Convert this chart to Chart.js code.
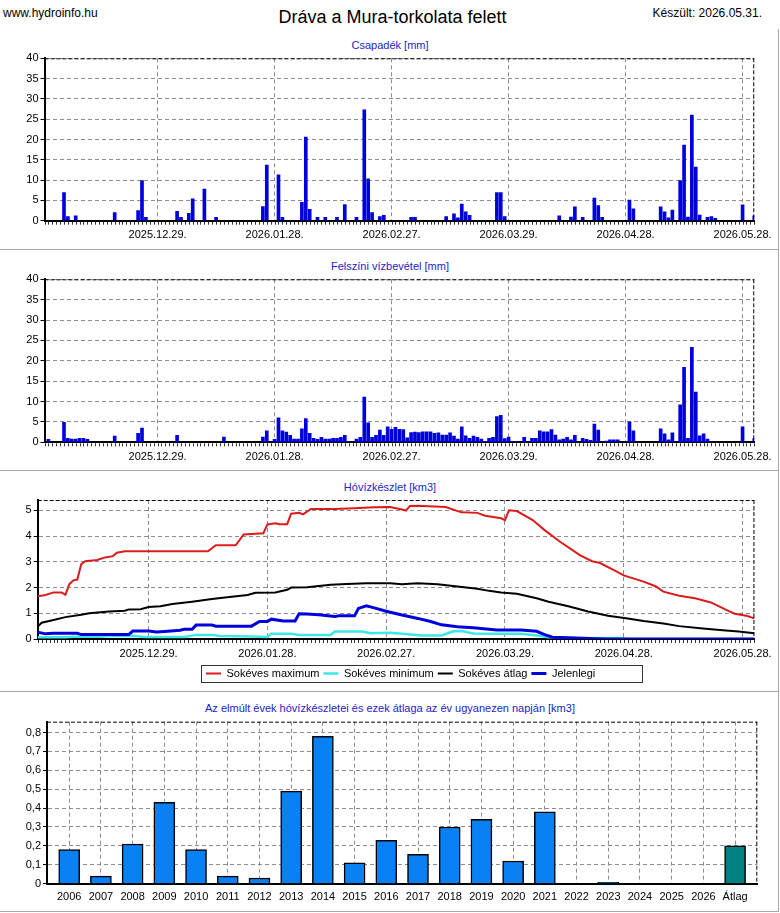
<!DOCTYPE html>
<html>
<head>
<meta charset="utf-8">
<title>Dráva a Mura-torkolata felett</title>
<script src="https://cdn.jsdelivr.net/npm/chart.js@4.4.1/dist/chart.umd.min.js"></script>
<style>
  body { margin: 0; background: #fff; font-family: 'Liberation Sans', Arial, sans-serif; }
  #lap { position: relative; width: 780px; height: 913px; overflow: hidden; }
  .szoveg { position: absolute; white-space: nowrap; line-height: 1; color: #000; }
  .alcim { position: absolute; left: 0; width: 780px; text-align: center; font-size: 11px; line-height: 1; color: #2323c8; }
  canvas { position: absolute; left: 0; }
  .vonal { position: absolute; background: #a8a8a8; }
</style>
</head>
<body>
<div id="lap">
  <div class="szoveg" style="left:3px; top:7px; font-size:12px;">www.hydroinfo.hu</div>
  <div class="szoveg" style="left:0; width:785px; text-align:center; top:8px; font-size:18px;">Dráva a Mura-torkolata felett</div>
  <div class="szoveg" style="right:18px; top:7px; font-size:12px;">Készült: 2026.05.31.</div>

  <div class="alcim" style="top:40px;">Csapadék [mm]</div>
  <div class="alcim" style="top:261px;">Felszíni vízbevétel [mm]</div>
  <div class="alcim" style="top:482px;">Hóvízkészlet [km3]</div>
  <div class="alcim" style="top:703px;">Az elmúlt évek hóvízkészletei és ezek átlaga az év ugyanezen napján [km3]</div>

  <canvas id="csapadek" width="780" height="219" style="top:30px;"></canvas>
  <canvas id="vizbevetel" width="780" height="221" style="top:249px;"></canvas>
  <canvas id="hoviz" width="780" height="221" style="top:470px;"></canvas>
  <canvas id="evek" width="780" height="222" style="top:691px;"></canvas>

  <div class="vonal" style="left:0; top:249px; width:779px; height:1px;"></div>
  <div class="vonal" style="left:0; top:470px; width:779px; height:1px;"></div>
  <div class="vonal" style="left:0; top:691px; width:779px; height:1px;"></div>
  <div class="vonal" style="left:0; top:911px; width:779px; height:1px;"></div>
  <div class="vonal" style="left:778px; top:29px; width:1px; height:883px;"></div>
</div>
<script>
// napok 2025.12.01-tol szamolva (0 = dec. 1.)
const napTickek = [28, 58, 88, 118, 148, 178];
const datumCimkek = ['2025.12.29.', '2026.01.28.', '2026.02.27.', '2026.03.29.', '2026.04.28.', '2026.05.28.'];

// Csapadek [mm]
const csapNap = [4,5,7,17,23,24,25,33,34,36,37,40,43,55,56,59,60,65,66,67,69,71,74,76,79,81,82,83,85,86,
  93,94,102,104,105,106,107,108,115,116,117,131,134,135,137,140,141,142,149,150,157,158,159,160,162,163,164,165,166,167,169,170,171,178,181];
const csapMm = [6.9,1.0,1.2,2.0,2.5,9.9,0.8,2.3,0.8,1.8,5.4,7.8,0.8,3.5,13.7,11.3,0.8,4.5,20.6,2.8,0.8,0.8,0.8,4.0,0.8,27.3,10.3,2.0,1.0,1.3,
  0.8,0.8,1.0,1.7,0.7,4.1,2.2,1.3,6.9,6.9,1.0,1.2,0.9,3.4,0.8,5.6,3.7,0.8,5.1,2.9,3.4,2.2,0.7,2.6,9.9,18.6,0.9,26.0,13.2,1.4,0.8,1.0,0.6,3.9,1.2];

// Felszini vizbevetel [mm]
const vizNap = [0,4,5,6,7,8,9,10,17,23,24,33,45,55,56,58,59,60,61,62,63,64,65,66,67,68,69,70,71,72,73,74,75,76,77,79,80,81,82,83,84,85,86,87,
  88,89,90,91,92,93,94,95,96,97,98,99,100,101,102,103,104,105,106,107,108,109,110,111,112,113,114,115,116,117,118,119,120,122,123,124,125,
  126,127,128,129,130,131,132,133,134,135,137,138,139,140,141,143,144,145,146,149,150,157,158,159,160,162,163,164,165,166,167,168,169,170,178,181];
const vizMm = [0.7,4.9,1.0,0.8,0.8,1.0,1.0,0.7,1.5,2.2,3.5,1.7,1.3,1.3,2.8,0.7,6.0,2.8,2.5,1.7,0.8,0.8,3.3,5.8,2.2,1.0,0.7,1.2,0.8,0.8,1.0,1.0,1.2,1.7,0.2,0.8,1.2,11.1,4.8,1.2,1.7,3.0,1.7,3.8,
  3.2,3.7,3.2,3.1,1.1,2.4,2.5,2.4,2.6,2.6,2.6,2.2,2.3,1.8,1.8,2.3,1.5,0.8,3.8,1.6,1.0,1.5,1.2,0.8,0.2,1.0,1.2,6.3,6.6,0.9,1.3,0.2,0.2,1.2,0.2,1.0,1.0,
  2.8,2.6,2.6,3.1,1.8,0.6,0.8,1.2,0.6,1.7,1.0,0.7,0.5,4.5,3.0,0.3,0.6,0.6,0.6,5.0,2.8,3.3,2.1,0.6,2.3,9.2,18.4,1.0,23.3,12.3,1.6,2.1,0.8,0.2,3.8,0.9];

// Hovizkeszlet [km3]
const maxNap = [0,2,4,6,7,8,9,10,11,12,15,17,19,20,22,43,45,50,52,57,58,60,61,63,64,66,67,69,75,80,85,89,92,93,94,96,103,107,111,113,
  117,118,119,121,125,128,132,137,140,142,146,148,153,156,158,162,166,170,174,176,179,181];
const maxKm3 = [1.66,1.71,1.81,1.81,1.72,2.13,2.28,2.31,2.91,3.02,3.07,3.17,3.22,3.35,3.41,3.41,3.64,3.64,4.06,4.11,4.45,4.50,4.46,4.46,4.87,4.90,4.84,5.05,5.05,5.08,5.12,5.13,5.03,4.99,5.17,5.18,5.13,4.92,4.90,4.79,
  4.69,4.62,5.00,4.97,4.62,4.23,3.77,3.25,3.02,2.95,2.64,2.47,2.23,2.05,1.84,1.68,1.58,1.42,1.12,0.98,0.90,0.80];
const minNap = [0,7,9,16,18,24,27,37,40,44,46,54,58,59,64,66,74,75,82,84,89,92,97,102,105,107,110,116,122,126,129,136,147,149,181];
const minKm3 = [0.07,0.07,0.09,0.09,0.12,0.13,0.08,0.08,0.16,0.16,0.12,0.10,0.08,0.20,0.20,0.16,0.16,0.29,0.29,0.22,0.24,0.20,0.14,0.14,0.30,0.31,0.21,0.20,0.20,0.14,0.07,0.03,0.04,0,0];
const atlNap = [0,1,4,7,11,13,18,22,23,26,28,31,34,39,44,49,53,55,60,63,64,68,74,78,83,89,92,96,101,106,111,114,117,121,126,129,134,139,144,149,153,158,162,168,173,177,181];
const atlKm3 = [0.48,0.63,0.74,0.85,0.94,1.00,1.07,1.10,1.15,1.16,1.24,1.27,1.36,1.45,1.55,1.64,1.71,1.80,1.81,1.91,2.00,2.01,2.11,2.14,2.17,2.17,2.13,2.17,2.13,2.04,1.95,1.87,1.81,1.76,1.58,1.45,1.27,1.07,0.90,0.80,0.70,0.60,0.50,0.41,0.34,0.29,0.22];
const jelNap = [0,2,4,10,11,23,24,28,30,32,36,37,39,40,44,45,54,56,58,59,62,65,66,68,71,75,76,80,81,83,85,88,92,96,99,102,106,110,114,116,122,126,128,130,136,141,144,181];
const jelKm3 = [0.26,0.20,0.22,0.22,0.17,0.17,0.31,0.31,0.27,0.29,0.34,0.38,0.38,0.54,0.54,0.50,0.50,0.68,0.68,0.77,0.70,0.70,0.98,0.97,0.94,0.87,0.90,0.90,1.19,1.29,1.21,1.08,0.93,0.80,0.69,0.55,0.48,0.44,0.38,0.35,0.35,0.30,0.17,0.07,0.04,0.01,0,0];

// Elmult evek
const evek = ['2006','2007','2008','2009','2010','2011','2012','2013','2014','2015','2016','2017','2018','2019','2020','2021','2022','2023','2024','2025','2026','Átlag'];
const evKeszlet = [0.18,0.04,0.21,0.43,0.18,0.04,0.03,0.49,0.78,0.11,0.23,0.155,0.30,0.34,0.12,0.38,0,0.007,0,0,0,0.20];

Chart.defaults.font.family = "'Liberation Sans', Arial, sans-serif";
Chart.defaults.font.size = 11;
Chart.defaults.color = '#000';
Chart.defaults.animation = false;

const pontok = (nap, ert) => nap.map((d, i) => ({ x: d, y: ert[i] }));

// szaggatott keret fent/jobbra, napi osztasok, jelmagyarazat keret
const keretPlugin = {
  id: 'keret',
  afterUpdate(chart, args, opts) {
    // a jelmagyarazat kicsit jobbra van az eredetin
    if (opts.legendEltolas && chart.legend) {
      chart.legend.left += opts.legendEltolas;
      chart.legend.right += opts.legendEltolas;
      chart.legend.legendHitBoxes.forEach(h => { h.left += opts.legendEltolas; });
    }
  },
  afterDraw(chart, args, opts) {
    const { ctx, chartArea: a } = chart;
    ctx.save();
    ctx.strokeStyle = '#000';
    ctx.lineWidth = 1;
    ctx.setLineDash([4, 2]);
    ctx.beginPath();
    ctx.moveTo(a.left, a.top + 0.5);
    ctx.lineTo(a.right, a.top + 0.5);
    ctx.moveTo(a.right - 0.5, a.top);
    ctx.lineTo(a.right - 0.5, a.bottom);
    ctx.stroke();
    ctx.setLineDash([]);
    if (opts.napJelek) {
      const x = chart.scales.x;
      ctx.strokeStyle = '#333';
      ctx.beginPath();
      for (let d = Math.ceil(x.min); d <= x.max; d++) {
        const px = Math.round(x.getPixelForValue(d)) + 0.5;
        ctx.moveTo(px, a.bottom + 1);
        ctx.lineTo(px, a.bottom + 4);
      }
      ctx.stroke();
    }
    if (opts.legendKeret && chart.legend && chart.legend.legendHitBoxes.length) {
      const hb = chart.legend.legendHitBoxes;
      const bal = Math.min(...hb.map(h => h.left)) - 5;
      const kozep = hb[0].top + hb[0].height / 2;
      ctx.strokeRect(Math.round(bal) + 0.5, Math.round(kozep - 8.5) + 0.5, 441, 17);
    }
    ctx.restore();
  }
};

function yTengely(max, lepes, szel, formaz) {
  return {
    min: 0, max: max, bounds: 'data',
    ticks: { stepSize: lepes, includeBounds: false, padding: 2, callback: formaz },
    grid: { color: '#8c8c8c', tickColor: '#000', tickLength: 4 },
    border: { color: '#000', width: 2, dash: [4, 3] },
    afterFit(s) { s.width = szel; }
  };
}

function xNapok(min, max, mag) {
  return {
    type: 'linear', min: min, max: max, bounds: 'data', offset: false,
    ticks: { padding: 8, maxRotation: 0, autoSkip: false, callback: (v, i) => datumCimkek[i] },
    grid: { color: '#8c8c8c', drawTicks: false, offset: false },
    border: { color: '#000', width: 2, dash: [4, 3] },
    afterBuildTicks(s) { s.ticks = napTickek.map(v => ({ value: v })); },
    afterFit(s) { s.height = mag; }
  };
}

function napiOszlop(id, nap, ert, padTop, xMag) {
  return new Chart(document.getElementById(id), {
    type: 'bar',
    data: {
      datasets: [{ data: pontok(nap, ert), backgroundColor: '#0000dd', borderWidth: 0, barThickness: 3 }]
    },
    options: {
      responsive: false,
      layout: { padding: { top: padTop, right: 23, bottom: 0, left: 0 } },
      scales: {
        x: xNapok(-1, 181, xMag),
        y: yTengely(40, 5, 44.5)
      },
      plugins: { legend: { display: false }, tooltip: { enabled: false }, keret: { napJelek: true } }
    },
    plugins: [keretPlugin]
  });
}

napiOszlop('csapadek', csapNap, csapMm, 28.3, 28.3);
napiOszlop('vizbevetel', vizNap, vizMm, 30.3, 27.7);

new Chart(document.getElementById('hoviz'), {
  type: 'line',
  data: {
    datasets: [
      { label: 'Sokéves maximum', data: pontok(maxNap, maxKm3), borderColor: '#dc1c1c', borderWidth: 2, order: 2 },
      { label: 'Sokéves minimum', data: pontok(minNap, minKm3), borderColor: '#3ee6e6', borderWidth: 2.5, order: 3 },
      { label: 'Sokéves átlag', data: pontok(atlNap, atlKm3), borderColor: '#000000', borderWidth: 2, order: 1 },
      { label: 'Jelenlegi', data: pontok(jelNap, jelKm3), borderColor: '#0000dd', borderWidth: 3, order: 0 }
    ]
  },
  options: {
    responsive: false,
    elements: { point: { radius: 0 }, line: { tension: 0 } },
    layout: { padding: { top: 30, right: 22.7, bottom: 2, left: 0 } },
    scales: {
      x: xNapok(0, 181, 25),
      y: yTengely(5.4, 1, 37.7)
    },
    plugins: {
      legend: {
        position: 'bottom',
        labels: {
          usePointStyle: true, pointStyle: 'line', pointStyleWidth: 15, boxHeight: 11, padding: 4, font: { size: 11 },
          sort: (a, b) => a.datasetIndex - b.datasetIndex
        }
      },
      tooltip: { enabled: false },
      keret: { napJelek: true, legendKeret: true, legendEltolas: 22 }
    }
  },
  plugins: [keretPlugin]
});

new Chart(document.getElementById('evek'), {
  type: 'bar',
  data: {
    datasets: [{
      data: evKeszlet.map((v, i) => ({ x: i, y: v })),
      backgroundColor: evek.map(e => e === 'Átlag' ? '#008080' : '#0a80f5'),
      borderColor: '#000',
      borderWidth: 1.5,
      barThickness: 21
    }]
  },
  options: {
    responsive: false,
    layout: { padding: { top: 30.7, right: 22.7, bottom: 0, left: 0 } },
    scales: {
      x: {
        type: 'linear', min: -0.7, max: 21.7, bounds: 'data', offset: false,
        ticks: { padding: 7, maxRotation: 0, autoSkip: false, callback: (v, i) => evek[i] },
        grid: { color: '#8c8c8c', drawTicks: false, offset: false },
        border: { color: '#000', width: 2, dash: [4, 3] },
        afterBuildTicks(s) { s.ticks = evek.map((e, i) => ({ value: i })); },
        afterFit(s) { s.height = 29.3; }
      },
      y: yTengely(0.857, 0.1, 47, v => v === 0 ? '0' : v.toFixed(1).replace('.', ','))
    },
    plugins: { legend: { display: false }, tooltip: { enabled: false }, keret: {} }
  },
  plugins: [keretPlugin]
});
</script>
</body>
</html>
